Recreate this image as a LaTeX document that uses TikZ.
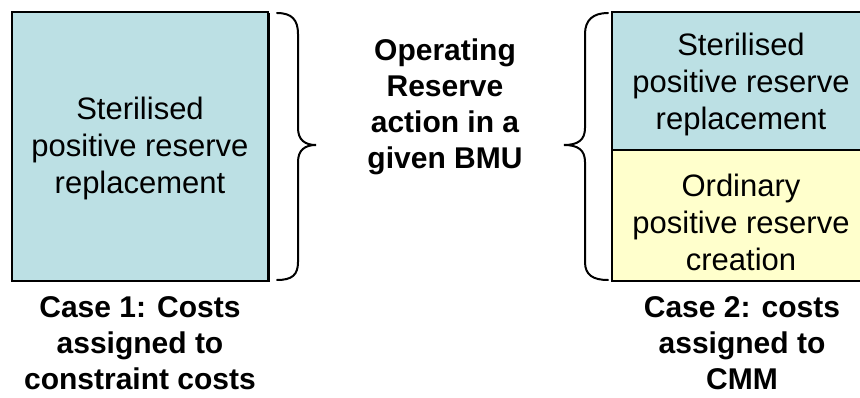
\documentclass[tikz,border=0pt]{standalone}
\usepackage{fontspec}
\setmainfont{Liberation Sans}
\usetikzlibrary{calc}
\usetikzlibrary{shadows}

\definecolor{sterileblue}{RGB}{188,224,228}
\definecolor{ordinaryyellow}{RGB}{255,255,204}

\tikzset{
  casebox/.style={draw=black, line width=1.2pt, inner sep=0pt,
    drop shadow={shadow xshift=1.5pt, shadow yshift=-1.5pt, fill=black, opacity=1}},
  boxtext/.style={align=center, inner sep=0pt, font=\fontsize{31}{37}\selectfont},
  boldtext/.style={align=center, inner sep=0pt, font=\bfseries\fontsize{30}{36}\selectfont},
  bracestroke/.style={black, line width=2pt, line cap=round}
}

\begin{document}
\begin{tikzpicture} [x=1pt, y=-1pt]
\useasboundingbox (0,0) rectangle (860,398);

% case 1 box
\node[casebox, fill=sterileblue, minimum width=256pt, minimum height=269pt] (sterile) at (140,146.5) {};
\node[boxtext] (steriletext) at ($(sterile.center)+(0,2)$) {Sterilised\\positive reserve\\replacement};

% case 2 boxes
\node[casebox, fill=sterileblue, minimum width=258pt, minimum height=138pt] (cmmsterile) at (741,81) {};
\node[casebox, fill=ordinaryyellow, minimum width=258pt, minimum height=131pt] (cmmordinary) at (741,215.5) {};
\node[boxtext] (cmmsteriletext) at ($(cmmsterile.center)+(0,3)$) {Sterilised\\positive reserve\\replacement};
\node[boxtext] (cmmordinarytext) at ($(cmmordinary.center)+(0,7)$) {Ordinary\\positive reserve\\creation};

\node[boldtext] (action) at (445,107) {Operating\\Reserve\\action in a\\given BMU};

\node[boldtext] (caseone) at (140,343.5) {Case 1: Costs\\assigned to\\constraint costs};
\node[boldtext] (casetwo) at (742,343.5) {Case 2: costs\\assigned to\\CMM};

% braces
\draw[bracestroke] (277,13) .. controls (292,13) and (298,20) .. (298,34) -- (298,128)
  .. controls (298,140) and (305,145) .. (316,145)
  .. controls (305,145) and (298,150) .. (298,162) -- (298,262)
  .. controls (298,275) and (292,280) .. (277,280);
\draw[bracestroke] (608,13) .. controls (593,13) and (585,20) .. (585,34) -- (585,128)
  .. controls (585,140) and (578,145) .. (564,145)
  .. controls (578,145) and (585,150) .. (585,162) -- (585,262)
  .. controls (585,275) and (593,280) .. (608,280);
\end{tikzpicture}
\end{document}
